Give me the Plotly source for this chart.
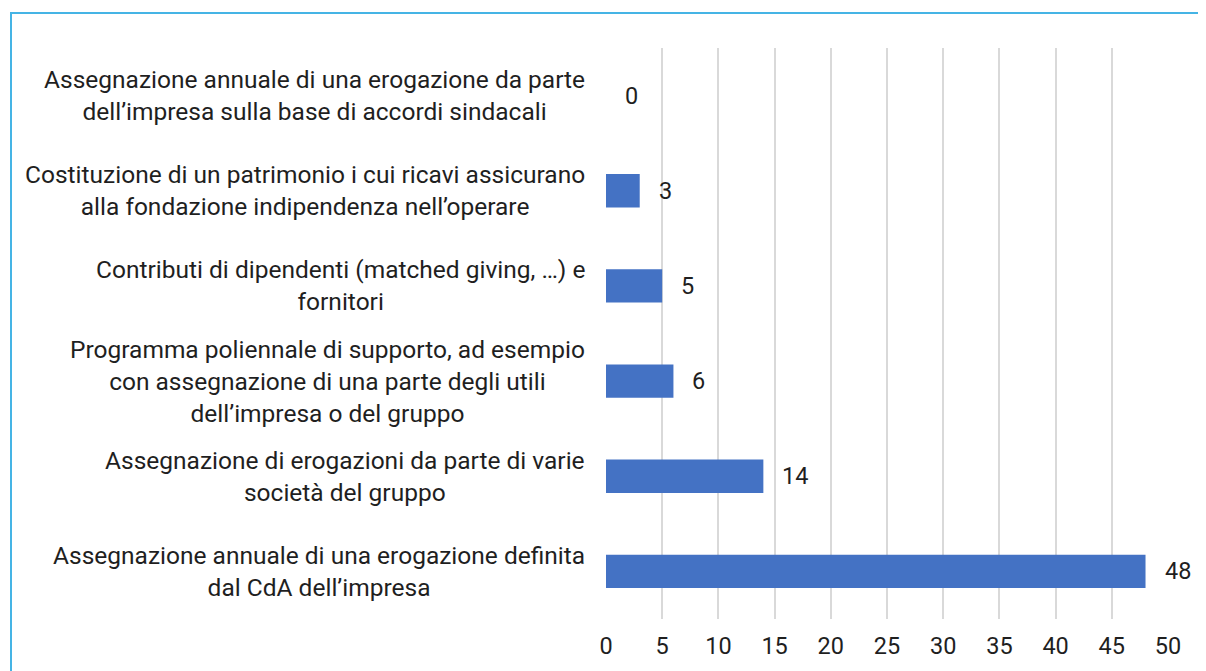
import plotly.graph_objects as go

categories = [
    "Assegnazione annuale di una erogazione definita<br>dal CdA dell’impresa",
    "Assegnazione di erogazioni da parte di varie<br>società del gruppo",
    "Programma poliennale di supporto, ad esempio<br>con assegnazione di una parte degli utili<br>dell’impresa o del gruppo",
    "Contributi di dipendenti (matched giving, …) e<br>fornitori",
    "Costituzione di un patrimonio i cui ricavi assicurano<br>alla fondazione indipendenza nell’operare",
    "Assegnazione annuale di una erogazione da parte<br>dell’impresa sulla base di accordi sindacali",
]
values = [48, 14, 6, 5, 3, 0]
tick_vals = [0, 5, 10, 15, 20, 25, 30, 35, 40, 45, 50]

FONT = "Roboto"
FS = 24.5
TXT = "#1f1f1f"

# figure sits inside an 8px page margin
W, H = 1198, 663
L, R, T, B = 598, 38, 40, 52
PW, PH = W - L - R, H - T - B

fig = go.Figure()
fig.add_trace(go.Bar(
    y=categories, x=values, orientation="h",
    marker=dict(color="#4472C4", line=dict(width=0)),
    width=0.35, hoverinfo="skip",
))

annotations = []
for c, v in zip(categories, values):
    annotations.append(dict(
        x=0, xref="paper", y=c, yref="y", text=c, showarrow=False,
        xanchor="right", align="center", xshift=-19,
        font=dict(family=FONT, size=FS, color=TXT),
    ))
    annotations.append(dict(
        x=v, xref="x", y=c, yref="y", text=str(v), showarrow=False,
        xanchor="left", xshift=17,
        font=dict(family=FONT, size=FS - 1, color=TXT),
    ))

fig.update_layout(
    width=W, height=H,
    margin=dict(l=L, r=R, t=T, b=B),
    paper_bgcolor="white", plot_bgcolor="white",
    showlegend=False,
    font=dict(family=FONT, size=FS, color=TXT),
    annotations=annotations,
    xaxis=dict(
        range=[0, 50], tickvals=tick_vals, showgrid=True,
        gridcolor="#d9d9d9", gridwidth=1.5, zeroline=False,
        showline=False, ticks="", tickfont=dict(size=FS - 1, color=TXT),
        ticklabelstandoff=10, fixedrange=True,
    ),
    yaxis=dict(
        showticklabels=False, showgrid=False, zeroline=False,
        showline=False, ticks="", fixedrange=True,
    ),
    shapes=[dict(
        type="rect", xref="paper", yref="paper",
        x0=(3 - L) / PW, x1=1 + (R + 10) / PW,
        y0=-(B + 10) / PH, y1=1 + (T - 5) / PH,
        line=dict(color="#45B4E5", width=2), fillcolor="rgba(0,0,0,0)",
        layer="above",
    )],
)

fig.write_html("out.html")
